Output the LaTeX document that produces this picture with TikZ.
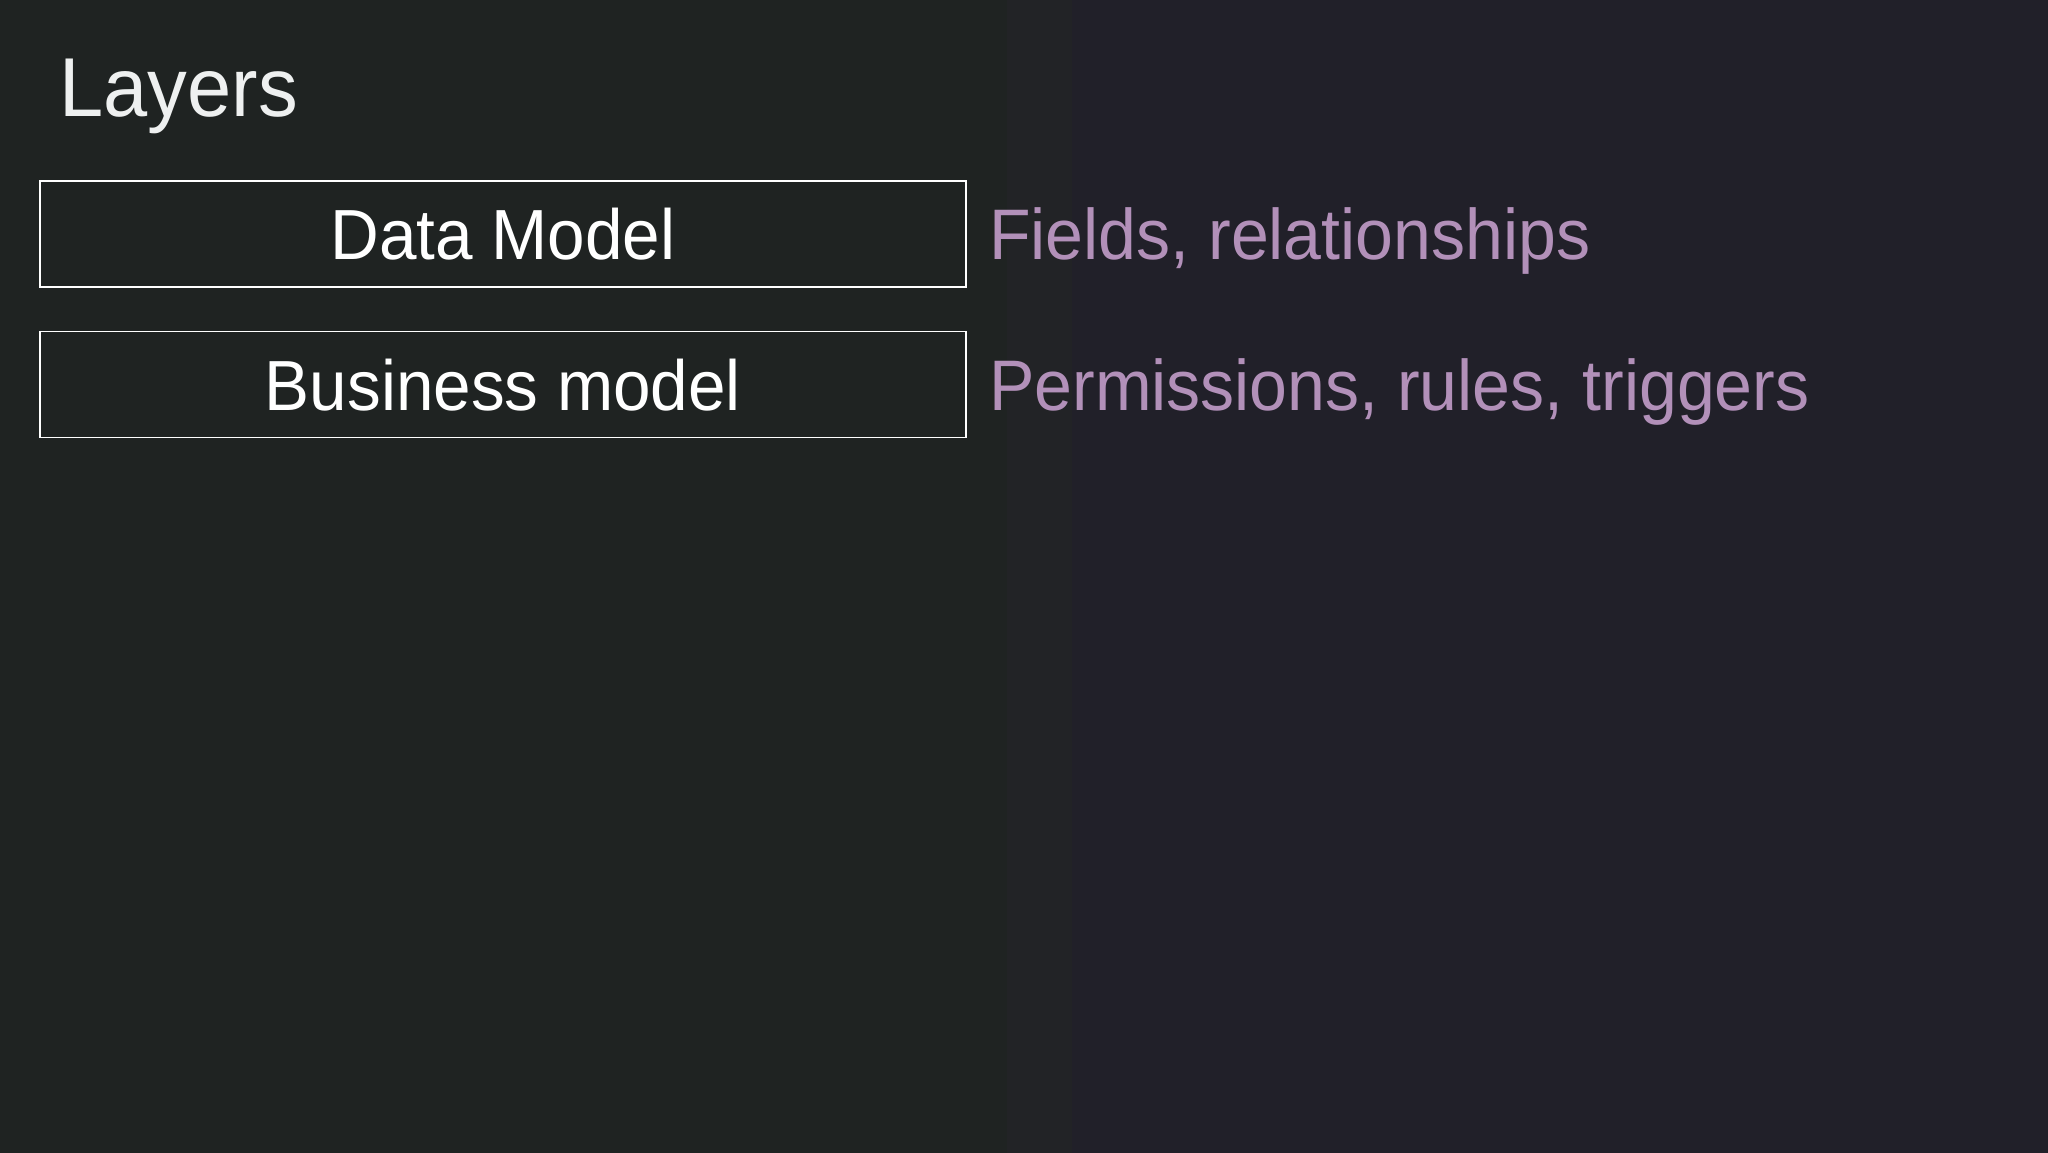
\documentclass[tikz,border=0pt]{standalone}
\usepackage{xcolor}
\usepackage{fontspec}
\setmainfont{Liberation Sans}[FakeStretch=0.95]
\usepackage{tikz}
\usetikzlibrary{positioning}

\definecolor{bgleft}{HTML}{1F2322}
\definecolor{bgmid}{HTML}{222326}
\definecolor{bgright}{HTML}{212029}
\definecolor{titlegray}{HTML}{EEF0F0}
\definecolor{notepurple}{HTML}{B290B9}

\begin{document}
\begin{tikzpicture}[x=0.5pt, y=-0.5pt, node distance=21.5pt,
    layerbox/.style={draw=white, line width=0.8pt, rectangle, minimum width=463pt, minimum height=53pt, inner sep=0pt, text=white, font=\fontsize{35.5}{40}\selectfont, text height=25.6pt, text depth=0pt},
    layernote/.style={inner sep=0pt, anchor=west, text=notepurple, font=\fontsize{35.8}{40}\selectfont, text height=25.6pt, text depth=0pt}]
    % Background
    \useasboundingbox (0,0) rectangle (2048,1152);
    \fill[bgleft] (-4,-4) rectangle (1007,1156);
    \fill[bgmid] (1007,-4) rectangle (1072,1156);
    \fill[bgright] (1072,-4) rectangle (2052,1156);

    % Title
    \node[anchor=base west, inner sep=0pt, text=titlegray, font=\fontsize{41.8}{46}\selectfont] (title) at (59,116) {Layers};

    % Layers
    \node[layerbox] (datamodel) at (503,234) {Data Model};
    \node[layerbox, below=of datamodel] (businessmodel) {Business model};

    % Notes
    \node[layernote, right=11pt of datamodel] (datanote) {Fields, relationships};
    \node[layernote, right=11pt of businessmodel] (businessnote) {Permissions, rules, triggers};
\end{tikzpicture}
\end{document}
